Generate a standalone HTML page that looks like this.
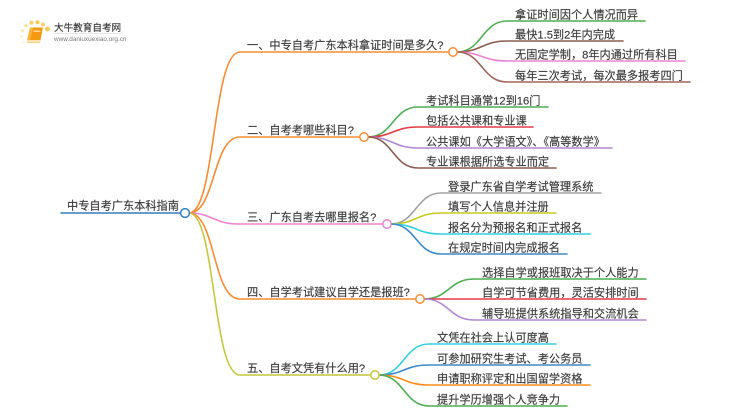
<!DOCTYPE html>
<html><head><meta charset="utf-8"><style>
html,body{margin:0;padding:0;background:#fff;width:750px;height:410px;overflow:hidden}
svg{display:block;filter:blur(.3px)}
text{font-family:"Liberation Sans","Noto Sans CJK SC",sans-serif;font-size:11.2px;fill:#3a3a3a;stroke:#3a3a3a;stroke-width:.15px}
path{fill:none;stroke-width:1.6;stroke-linecap:round}
circle{fill:#fff;stroke-width:1.5}
</style></head><body>
<svg width="750" height="410" viewBox="0 0 750 410" xmlns="http://www.w3.org/2000/svg">
<!-- logo -->
<g>
<circle cx="47.5" cy="29" r="2.4" style="fill:#fcc94f;stroke:none"/>
<circle cx="43" cy="24.5" r="2" style="fill:#fcd068;stroke:none"/>
<circle cx="37.5" cy="22.3" r="2.1" style="fill:#fcc94f;stroke:none"/>
<circle cx="31.5" cy="22.8" r="2" style="fill:#fcd068;stroke:none"/>
<circle cx="26" cy="25.8" r="1.6" style="fill:#fddc8c;stroke:none"/>
<circle cx="22.5" cy="30.8" r="1.4" style="fill:#fde4a4;stroke:none"/>
<circle cx="21.7" cy="36.7" r="1.2" style="fill:#feecc0;stroke:none"/>
<circle cx="23.5" cy="42.5" r="1" style="fill:#fef0d0;stroke:none"/>
<polygon points="30,27.5 43,27.5 40,43 27,43" style="fill:#f49a12"/>
<polygon points="27,40 40.5,40 40,42.8 27,42.8" style="fill:#fde3b0"/>
<polygon points="30,27.5 33,27.5 30,40 27,40" style="fill:#fbb73a"/>
<rect x="33.5" y="30.5" width="7" height="1.5" style="fill:#fdd89a"/>
</g>
<text x="54" y="31" style="font-size:9.6px">大牛教育自考网</text>
<rect x="54" y="33" width="68" height="0.7" style="fill:#ddd"/>
<text x="54" y="41" style="font-size:6.4px;fill:#777;stroke:none">www.daniuxuexiao.org.cn</text>

<!-- root -->
<path d="M61 213H181" stroke="#2f7fc4" stroke-width="1.7"/>

<!-- main branches -->
<path d="M189 213C216 213 212 52 240 52H449" stroke="#f98c32"/>
<path d="M189 213C216 213 212 137 240 137H360" stroke="#f98c32"/>
<path d="M189 213C212 213 214 224 238 224H382" stroke="#ee82d0"/>
<path d="M189 213C216 213 212 299 240 299H415" stroke="#f98c32"/>
<path d="M189 213C216 213 212 375 240 375H370" stroke="#c6c63c"/>

<!-- leaves 1 -->
<path d="M457 52C482 52 482 21 507 21H645" stroke="#4caf50"/>
<path d="M457 52C482 52 482 41 507 41H623" stroke="#8d5a4e"/>
<path d="M457 52C482 52 482 61 507 61H685" stroke="#ee82d0"/>
<path d="M457 52C482 52 482 82 507 82H690" stroke="#a0655a"/>
<!-- leaves 2 -->
<path d="M368 137C393 137 393 107 418 107H548" stroke="#4caf50"/>
<path d="M368 137C393 137 393 127 418 127H533" stroke="#e53945"/>
<path d="M368 137C393 137 393 148 418 148H612" stroke="#b087d6"/>
<path d="M368 137C393 137 393 168 418 168H556" stroke="#8d5a4e"/>
<!-- leaves 3 -->
<path d="M391 224C416 224 416 193 441 193H601" stroke="#a0a0a0"/>
<path d="M391 224C416 224 416 213 441 213H556" stroke="#c8c820"/>
<path d="M391 224C416 224 416 234 441 234H590" stroke="#30cfe0"/>
<path d="M391 224C416 224 416 254 441 254H567" stroke="#3b8ac9"/>
<!-- leaves 4 -->
<path d="M424 299C449 299 449 279 474 279H646" stroke="#4caf50"/>
<path d="M424 299H646" stroke="#e53945"/>
<path d="M424 299C449 299 449 320 474 320H646" stroke="#b087d6"/>
<!-- leaves 5 -->
<path d="M379 375C404 375 404 344 429 344H556" stroke="#30cfe0"/>
<path d="M379 375C404 375 404 365 429 365H590" stroke="#3b8ac9"/>
<path d="M379 375C404 375 404 385 429 385H590" stroke="#ff8c1a"/>
<path d="M379 375C404 375 404 406 429 406H567" stroke="#4caf50"/>

<!-- circles -->
<circle cx="185" cy="213" r="4.4" stroke="#2f7fc4"/>
<circle cx="453" cy="52" r="4.2" stroke="#f98c32"/>
<circle cx="364" cy="137" r="4.2" stroke="#f98c32"/>
<circle cx="387" cy="224" r="4.2" stroke="#ee82d0"/>
<circle cx="420" cy="299" r="4.2" stroke="#f98c32"/>
<circle cx="375" cy="375" r="4.2" stroke="#c6c63c"/>

<!-- labels -->
<text x="67" y="209.5">中专自考广东本科指南</text>
<text x="247" y="49">一、中专自考广东本科拿证时间是多久?</text>
<text x="247" y="134">二、自考考哪些科目?</text>
<text x="247" y="221">三、广东自考去哪里报名?</text>
<text x="247" y="296">四、自学考试建议自学还是报班?</text>
<text x="247" y="372">五、自考文凭有什么用?</text>

<text x="515" y="18.5">拿证时间因个人情况而异</text>
<text x="515" y="38.5">最快1.5到2年内完成</text>
<text x="515" y="58.5">无固定学制，8年内通过所有科目</text>
<text x="515" y="79.5">每年三次考试，每次最多报考四门</text>

<text x="426" y="104.5">考试科目通常12到16门</text>
<text x="426" y="124.5">包括公共课和专业课</text>
<text x="426" y="145.5">公共课如《大学语文》、《高等数学》</text>
<text x="426" y="165.5">专业课根据所选专业而定</text>

<text x="448" y="190.5">登录广东省自学考试管理系统</text>
<text x="448" y="210.5">填写个人信息并注册</text>
<text x="448" y="231.5">报名分为预报名和正式报名</text>
<text x="448" y="251.5">在规定时间内完成报名</text>

<text x="482" y="276.5">选择自学或报班取决于个人能力</text>
<text x="482" y="296.5">自学可节省费用，灵活安排时间</text>
<text x="482" y="317.5">辅导班提供系统指导和交流机会</text>

<text x="437" y="341.5">文凭在社会上认可度高</text>
<text x="437" y="362.5">可参加研究生考试、考公务员</text>
<text x="437" y="382.5">申请职称评定和出国留学资格</text>
<text x="437" y="403.5">提升学历增强个人竞争力</text>
</svg>
</body></html>
